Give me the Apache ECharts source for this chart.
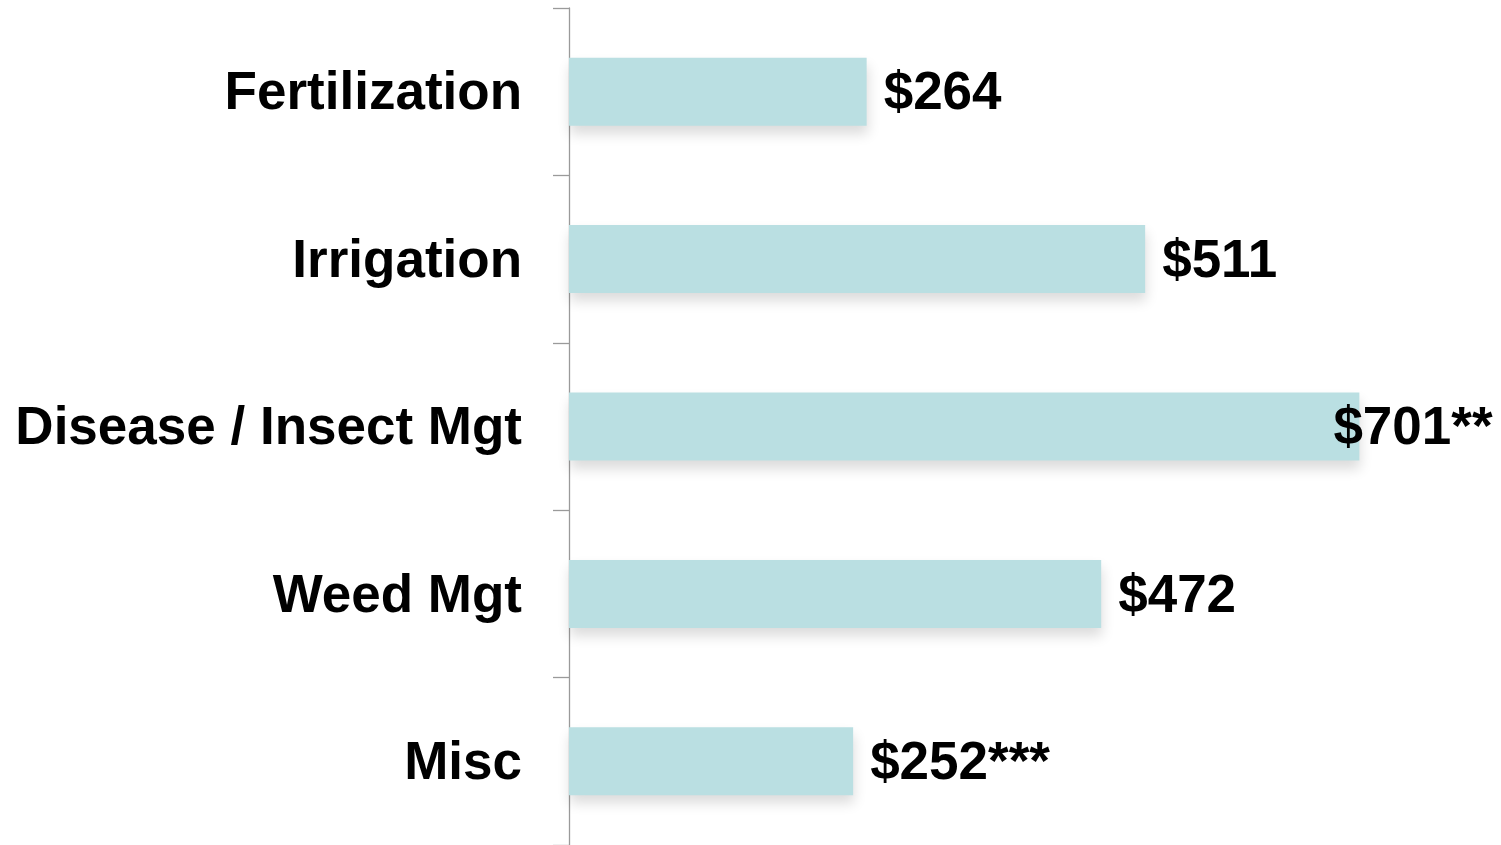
<!DOCTYPE html>
<html>
<head>
<meta charset="utf-8">
<script src="https://cdn.jsdelivr.net/npm/echarts@6/dist/echarts.min.js"></script>
<style>
html,body{margin:0;padding:0;background:#fff;}
#main{width:1501px;height:845px;}
</style>
</head>
<body>
<div id="main"></div>
<script>
const categories = ['Fertilization', 'Irrigation', 'Disease / Insect Mgt', 'Weed Mgt', 'Misc'];
const values = [264, 511, 701, 472, 252];
const valueLabels = ['$264', '$511', '$701**', '$472', '$252***'];

const FONT = '"Liberation Sans", Arial, sans-serif';
const chart = echarts.init(document.getElementById('main'));

const seriesData = values.map(function (v, i) {
  const item = { value: v };
  if (i === 2) {
    item.label = { offset: [-43, 3] };
  }
  return item;
});

chart.setOption({
  backgroundColor: '#ffffff',
  animation: false,
  grid: { left: 569, top: 8, width: 902, height: 838, containLabel: false },
  xAxis: {
    type: 'value',
    min: 0,
    max: 800,
    show: false,
    splitLine: { show: false }
  },
  yAxis: {
    type: 'category',
    data: categories,
    inverse: true,
    axisLine: { show: true, lineStyle: { color: '#9a9a9a', width: 1.3 } },
    axisTick: { show: true, length: 16, lineStyle: { color: '#9a9a9a', width: 1.3 } },
    axisLabel: {
      margin: 47,
      color: '#000',
      fontSize: 53,
      fontWeight: 'bold',
      fontFamily: FONT,
      formatter: function (v) { return '{c|' + v + '}'; },
      rich: {
        c: {
          color: '#000',
          fontSize: 53,
          fontWeight: 'bold',
          fontFamily: FONT,
          padding: [6, 0, 0, 0]
        }
      }
    }
  },
  series: [{
    type: 'bar',
    data: seriesData,
    barWidth: 68,
    itemStyle: {
      color: '#badfe2',
      shadowColor: 'rgba(0,0,0,0.14)',
      shadowBlur: 12,
      shadowOffsetX: 1,
      shadowOffsetY: 8
    },
    label: {
      show: true,
      position: 'right',
      distance: 17,
      offset: [0, 3],
      color: '#000',
      fontSize: 53,
      fontWeight: 'bold',
      fontFamily: FONT,
      formatter: function (p) { return valueLabels[p.dataIndex]; }
    }
  }]
});
</script>
</body>
</html>
